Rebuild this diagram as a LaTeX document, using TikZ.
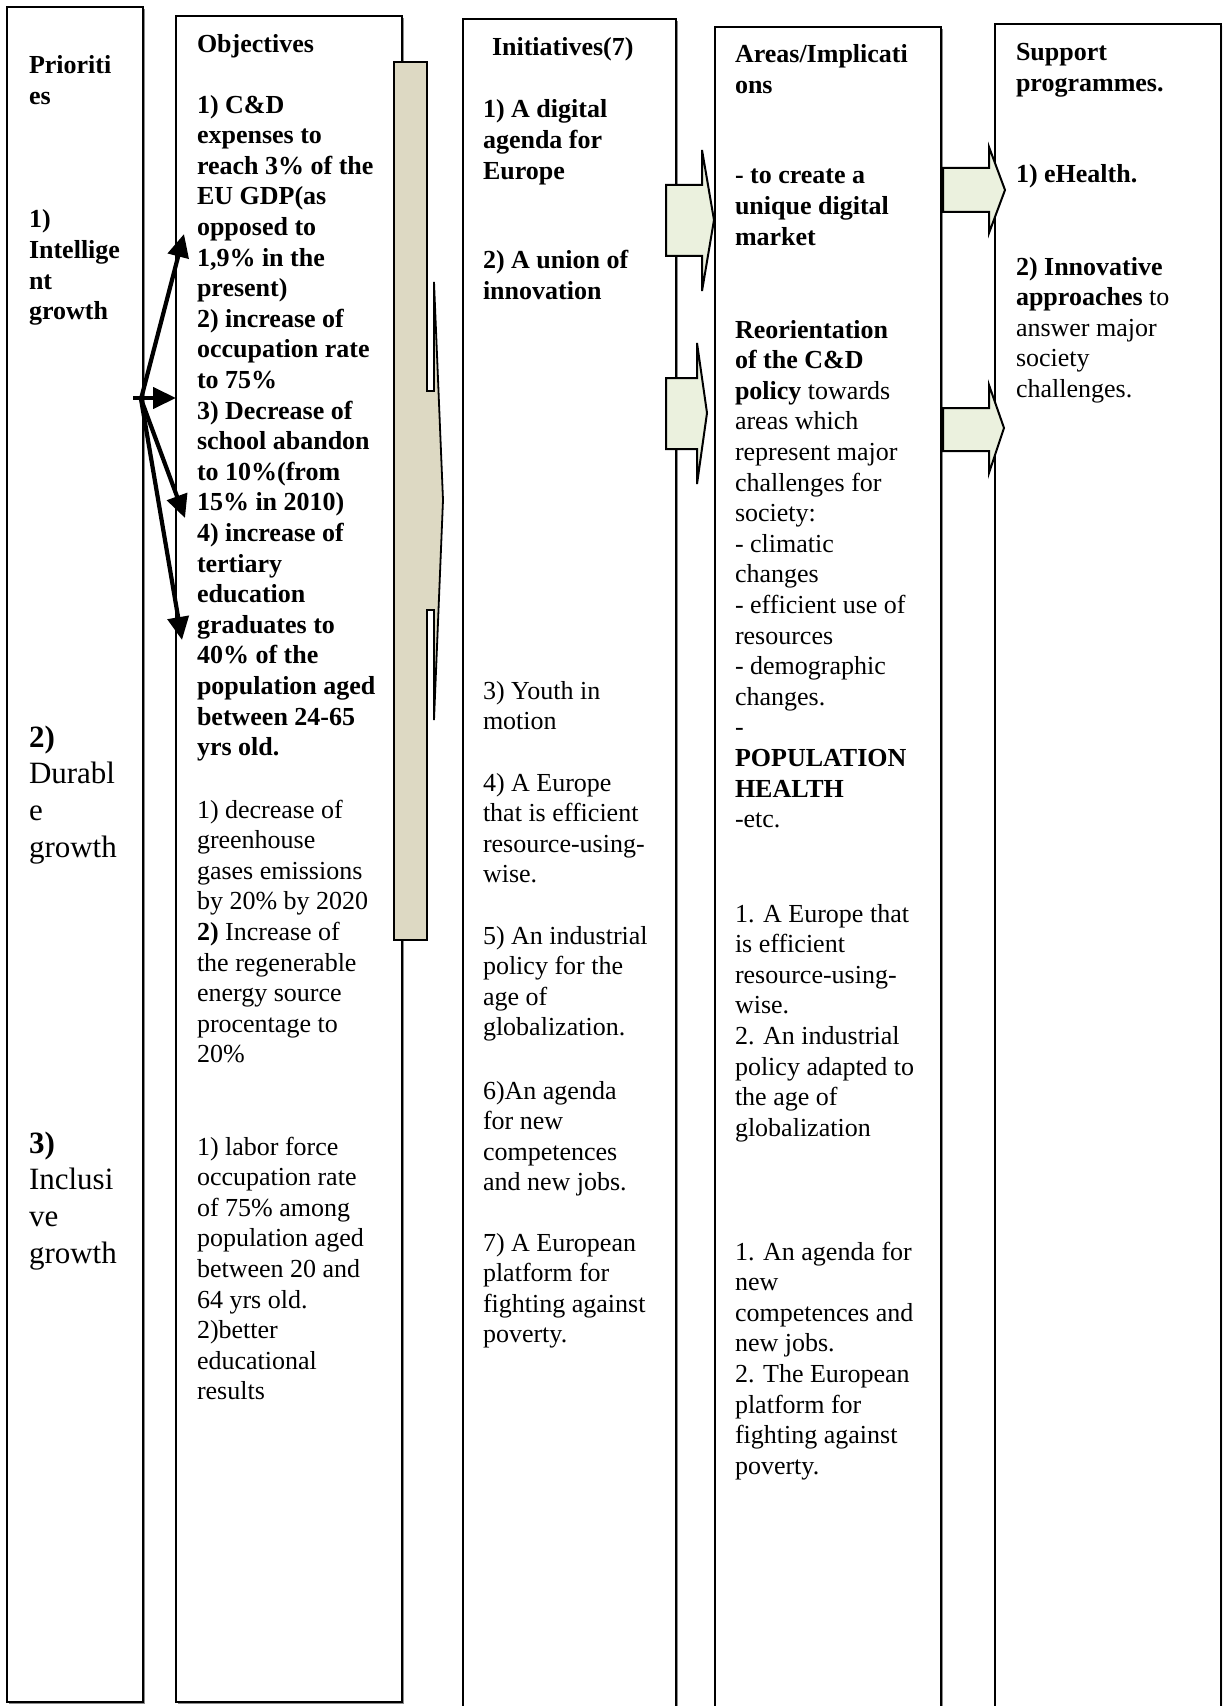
\documentclass[tikz,border=0pt]{standalone}
\usepackage{fontspec}
\setmainfont{Liberation Serif}
\usetikzlibrary{arrows.meta,fit,shadows}
\definecolor{tanfill}{HTML}{DDD9C3}
\definecolor{greenfill}{HTML}{EBF1DE}
\newcommand\fl{\rule{0pt}{9.75pt}}
\newcommand\flb{\rule{0pt}{11.6pt}}
\begin{document}
\begin{tikzpicture}[x=0.5pt,y=-0.5pt,
  colbox/.style={draw=black, line width=1pt, fill=white, inner sep=0pt,
    drop shadow={shadow xshift=0.8pt, shadow yshift=-0.8pt, fill=black!45, opacity=1}},
  tx/.style={anchor=north west, inner sep=0pt, outer sep=0pt, align=left, yshift=9.25pt},
  txr/.style={tx, font=\fontsize{13}{15.3}\selectfont},
  txb/.style={tx, font=\fontsize{13}{15.3}\selectfont\bfseries},
  txl/.style={anchor=north west, inner sep=0pt, outer sep=0pt, align=left, yshift=11.1pt,
    font=\fontsize{15.5}{18.4}\selectfont},
  tanarrow/.style={draw=black, line width=0.9pt, fill=tanfill, line join=miter},
  grnarrow/.style={draw=black, line width=1pt, fill=greenfill, line join=miter},
  blk/.style={line width=2.1pt, -{Triangle[length=11.5pt,width=10.5pt]}}]
\path[use as bounding box, clip] (0,0) rectangle (1222,1706);
\fill[white] (0,0) rectangle (1222,1706);

% column boxes
\node[colbox, fit={(7,7) (143,1702)}] (pri) {};
\node[colbox, fit={(176,16) (402,1702)}] (obj) {};
\node[colbox, fit={(463,19) (676,1730)}] (ini) {};
\node[colbox, fit={(715,27) (941,1730)}] (are) {};
\node[colbox, fit={(995,24) (1221,1730)}] (sup) {};

% big tan arrow over the objectives box
\filldraw[tanarrow] (394,62) -- (427,62) -- (427,391) -- (434,391) -- (434,282)
  -- (443,500) -- (434,720) -- (434,610) -- (427,610) -- (427,940) -- (394,940) -- cycle;

% green block arrows
\filldraw[grnarrow] (666,185) -- (702,185) -- (702,150) -- (714,220) -- (702,291) -- (702,256) -- (666,256) -- cycle;
\filldraw[grnarrow] (666,378) -- (697,378) -- (697,343) -- (707,413) -- (697,484) -- (697,449) -- (666,449) -- cycle;
\filldraw[grnarrow] (943,168) -- (989,168) -- (989,147) -- (1005,190) -- (989,233) -- (989,212) -- (943,212) -- cycle;
\filldraw[grnarrow] (943,408) -- (989,408) -- (989,385) -- (1004,428) -- (989,473) -- (989,451) -- (943,451) -- cycle;

% black arrows from priority 1 to the objectives
\coordinate (stub) at (133,398);
\coordinate (hub) at (141,399);
\coordinate (tipA) at (184,234);
\coordinate (tipB) at (176,398);
\coordinate (tipC) at (185,518);
\coordinate (tipD) at (182,640);
\draw[blk] (stub) -- (tipB);
\draw[blk] (hub) -- (tipA);
\draw[blk] (hub) -- (tipC);
\draw[blk] (hub) -- (tipD);

% Priorities
\node[txb] (prihead) at (29,73) {\fl Prioriti\\es};
\node[txb] (pri1) at (29,227) {\fl 1)\\Intellige\\nt\\growth};
\node[txl] (pri2) at (29,746) {\flb\textbf{2)}\\Durabl\\e\\growth};
\node[txl] (pri3) at (29,1152) {\flb\textbf{3)}\\Inclusi\\ve\\growth};

% Objectives
\node[txb] (objhead) at (197,52) {\fl Objectives};
\node[txb] (obj1) at (197,112) {\fl 1) C\&D\\expenses to\\reach 3\% of the\\EU GDP(as\\opposed to\\1,9\% in the\\present)\\2) increase of\\occupation rate\\to 75\%\\3) Decrease of\\school abandon\\to 10\%(from\\15\% in 2010)\\4) increase of\\tertiary\\education\\graduates to\\40\% of the\\population aged\\between 24-65\\yrs old.};
\node[txr] (obj2) at (197,817) {\fl 1) decrease of\\greenhouse\\gases emissions\\by 20\% by 2020\\\textbf{2)} Increase of\\the regenerable\\energy source\\procentage to\\20\%};
\node[txr] (obj3) at (197,1154) {\fl 1) labor force\\occupation rate\\of 75\% among\\population aged\\between 20 and\\64 yrs old.\\2)better\\educational\\results};

% Initiatives
\node[txb] (inihead) at (492,55) {\fl Initiatives(7)};
\node[txb] (ini1) at (483,117) {\fl 1) A digital\\agenda for\\Europe};
\node[txb] (ini2) at (483,268) {\fl 2) A union of\\innovation};
\node[txr] (ini3) at (483,698) {\fl 3) Youth in\\motion};
\node[txr] (ini4) at (483,790) {\fl 4) A Europe\\that is efficient\\resource-using-\\wise.};
\node[txr] (ini5) at (483,943) {\fl 5) An industrial\\policy for the\\age of\\globalization.};
\node[txr] (ini6) at (483,1098) {\fl 6)An agenda\\for new\\competences\\and new jobs.};
\node[txr] (ini7) at (483,1250) {\fl 7) A European\\platform for\\fighting against\\poverty.};

% Areas / Implications
\node[txb] (arehead) at (735,62) {\fl Areas/Implicati\\ons};
\node[txb] (are1) at (735,183) {\fl - to create a\\unique digital\\market};
\node[txr] (are2) at (735,337) {\fl\textbf{Reorientation}\\\textbf{of the C\&D}\\\textbf{policy} towards\\areas which\\represent major\\challenges for\\society:\\- climatic\\changes\\- efficient use of\\resources\\- demographic\\changes.\\-\\\textbf{POPULATION}\\\textbf{HEALTH}\\-etc.};
\node[txr] (are3) at (735,921) {\fl 1. A Europe that\\is efficient\\resource-using-\\wise.\\2. An industrial\\policy adapted to\\the age of\\globalization};
\node[txr] (are4) at (735,1259) {\fl 1. An agenda for\\new\\competences and\\new jobs.\\2. The European\\platform for\\fighting against\\poverty.};

% Support programmes
\node[txb] (suphead) at (1016,60) {\fl Support\\programmes.};
\node[txb] (sup1) at (1016,182) {\fl 1) eHealth.};
\node[txr] (sup2) at (1016,274) {\fl\textbf{2) Innovative}\\\textbf{approaches} to\\answer major\\society\\challenges.};
\end{tikzpicture}
\end{document}
